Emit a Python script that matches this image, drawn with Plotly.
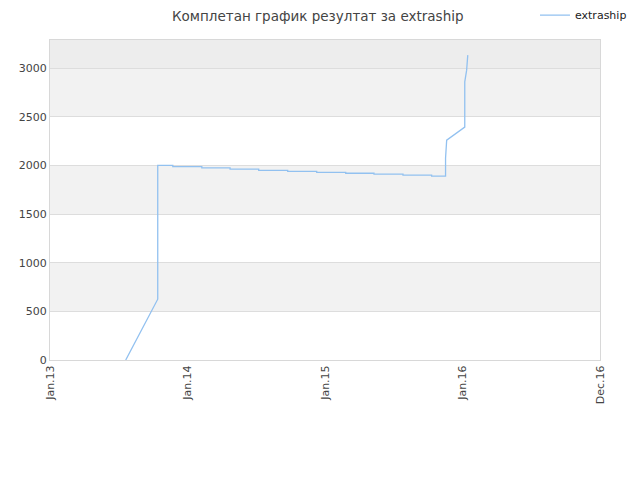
import plotly.graph_objs as go

# Data
dates = ['2013-07-21', '2013-10-14', '2013-10-14', '2013-11-23', '2013-11-23',
         '2014-02-08', '2014-02-08', '2014-04-24', '2014-04-24', '2014-07-09',
         '2014-07-09', '2014-09-24', '2014-09-24', '2014-12-10', '2014-12-10',
         '2015-02-25', '2015-02-25', '2015-05-11', '2015-05-11', '2015-07-27',
         '2015-07-27', '2015-10-11', '2015-10-11', '2015-11-17', '2015-11-17',
         '2015-11-20', '2016-01-07', '2016-01-07', '2016-01-12', '2016-01-15']
values = [0, 625, 2000, 2000, 1988, 1988, 1975, 1975, 1962, 1962,
          1950, 1950, 1940, 1940, 1930, 1930, 1920, 1920, 1910, 1910,
          1900, 1900, 1890, 1890, 2075, 2260, 2395, 2860, 2980, 3135]

tick_dates = ['2013-01-01', '2014-01-01', '2015-01-01', '2016-01-01', '2016-12-31']
tick_labels = ['Jan.13', 'Jan.14', 'Jan.15', 'Jan.16', 'Dec.16']

bands = [(500, 1000), (1500, 2000), (2500, 3000)]

fig = go.Figure()
fig.add_trace(go.Scatter(x=dates, y=values, mode='lines', name='extraship',
                         line=dict(color='#92c1f0', width=1.3)))

# Alternating background bands
shapes = []
for y0, y1 in bands:
    shapes.append(dict(type='rect', xref='paper', yref='y', x0=0, x1=1, y0=y0, y1=y1,
                       fillcolor='#f2f2f2', line_width=0, layer='below'))
shapes.append(dict(type='rect', xref='paper', yref='y', x0=0, x1=1, y0=3000, y1=3290,
                   fillcolor='#ededed', line_width=0, layer='below'))

# the page body has an 8px margin, so the margins are shifted to compensate
fig.update_layout(
    width=640, height=480,
    margin=dict(l=42, r=48, t=32, b=128, autoexpand=False),
    paper_bgcolor='white', plot_bgcolor='white',
    font=dict(family='DejaVu Sans', size=11, color='#444'),
    title=dict(text='Комплетан график резултат за extraship', x=0.484, y=0.993,
               xref='container', yref='container', xanchor='center', yanchor='top',
               font=dict(size=13.5, color='#444')),
    showlegend=True,
    legend=dict(x=0.8234, y=0.985, xref='container', yref='container',
                xanchor='left', yanchor='middle',
                bgcolor='rgba(0,0,0,0)', font=dict(size=11, color='#222')),
    shapes=shapes,
    xaxis=dict(range=['2013-01-01', '2016-12-31'], tickvals=tick_dates, ticktext=tick_labels,
               tickangle=-90, showgrid=False, zeroline=False, showline=True, mirror=True,
               linecolor='#d8d8d8', linewidth=1, ticks='', automargin=False,
               tickfont=dict(color='#444')),
    yaxis=dict(range=[0, 3290], tickvals=[0, 500, 1000, 1500, 2000, 2500, 3000],
               showgrid=True, gridcolor='#dddddd', zeroline=False, showline=True, mirror=True,
               linecolor='#d8d8d8', linewidth=1, ticks='', automargin=False,
               tickfont=dict(color='#444')),
)

fig.write_html('out.html')
